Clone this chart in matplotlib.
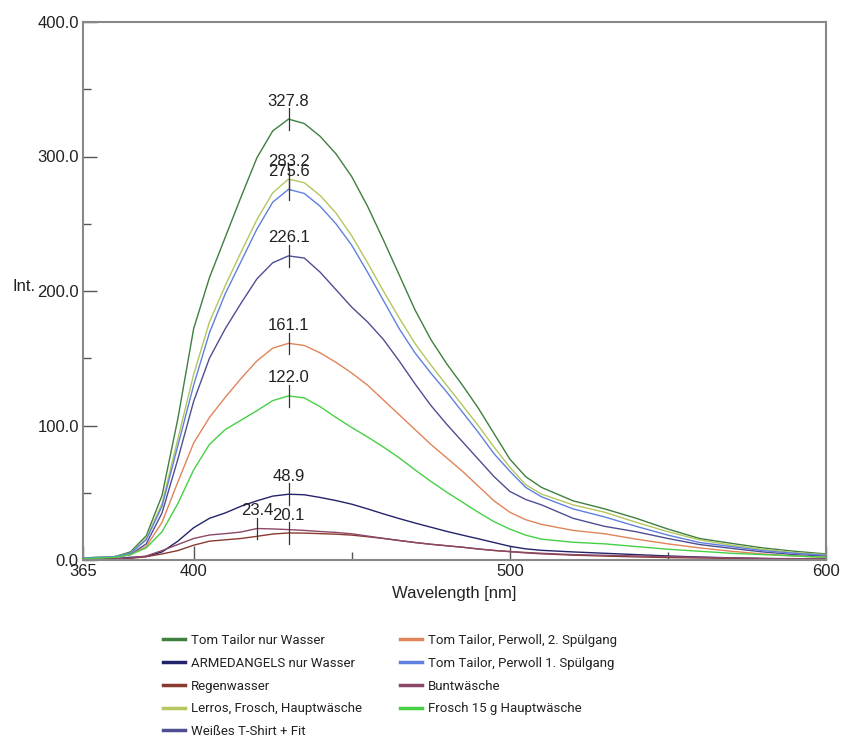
import numpy as np
import matplotlib
matplotlib.use("Agg")
import matplotlib.pyplot as plt
from matplotlib import font_manager
from matplotlib.ticker import MultipleLocator, FormatStrFormatter

plt.rcParams['font.family'] = ['Liberation Sans', 'DejaVu Sans']

# wavelength grid [nm]
wavelength = [365, 370, 375, 380, 385, 390, 395, 400, 405, 410, 415, 420, 425,
              430, 435, 440, 445, 450, 455, 460, 465, 470, 475, 480, 485, 490,
              495, 500, 505, 510, 520, 530, 540, 550, 560, 570, 580, 590, 600]

tom_tailor_wasser = [1.5, 2, 2.5, 6, 18, 48, 105, 172, 210, 240, 270, 299, 319,
                     327.8, 324.5, 315, 302, 285, 263, 238, 212, 186, 164, 146, 130, 113,
                     94, 75, 62, 54, 44, 38, 31, 23, 16, 12.4, 9, 6.5, 4.5]
armedangels_wasser = [0.5, 0.5, 1, 2, 2.5, 6, 14, 24, 31, 35, 40, 44, 47.5,
                      48.9, 48.5, 46.5, 44.2, 41.5, 38, 34.3, 30.8, 27.5, 24.4, 21.3, 18.5, 15.8,
                      13, 10.2, 8.3, 7.2, 6, 5, 4, 3, 2.2, 1.6, 1.1, 0.8, 0.5]
regenwasser = [0.3, 0.5, 0.7, 1.2, 2.5, 4.5, 7, 11, 14, 15, 16, 17.6, 19.3,
               20.1, 20, 19.6, 19.2, 18.5, 17.3, 16, 14.5, 13, 11.7, 10.6, 9.5, 8.2,
               7.1, 6.2, 5.3, 4.6, 3.6, 2.9, 2.3, 1.8, 1.5, 1.2, 1, 0.8, 0.6]
lerros_frosch = [1.5, 2, 2.5, 5, 16, 42, 90, 138, 177, 204, 229, 253, 273,
                 283.2, 280.5, 271, 258, 241, 221, 200, 180, 161, 145, 130, 115, 100,
                 84, 69, 56, 49, 41, 35.5, 28, 21, 15, 11, 8, 5.5, 4]
weisses_tshirt = [1, 1.5, 2, 4, 12, 35, 75, 118, 150, 172, 191, 209, 221,
                  226.1, 224.5, 214, 201, 188, 177, 164, 148, 131, 115, 101, 88, 75,
                  62, 51, 45, 41, 31, 25, 21, 16, 11.5, 8.7, 6, 4, 3]
perwoll_2 = [1, 1.5, 2, 4, 10, 28, 58, 87, 106, 121, 135, 148, 157.5,
             161.1, 159.5, 154, 147, 139, 130, 119, 108, 97, 86, 76, 66, 55,
             44, 35.5, 30, 26.5, 22, 19.5, 15.5, 12, 9, 6.5, 4.5, 3, 2]
perwoll_1 = [1.5, 2, 2.5, 5, 15, 40, 85, 130, 169, 198, 222, 246, 266,
             275.6, 272.5, 263, 250, 234, 214, 193, 172, 154, 139, 125, 110, 95,
             79, 66, 54, 47, 38, 32, 25, 18.5, 13, 10, 7, 5, 3.5]
buntwaesche = [0.3, 0.5, 0.8, 1.5, 3, 7, 11.5, 16, 18.6, 19.6, 20.8, 23.4, 23.1,
               22.6, 22, 21.2, 20.5, 19.5, 17.8, 16.1, 14.5, 13, 11.7, 10.6, 9.5, 8.2,
               7.1, 6.3, 5.6, 5, 4, 3.5, 3, 2.5, 2, 1.5, 1.2, 1, 0.8]
frosch_15g = [1, 1.5, 2, 4, 9, 21, 42, 67, 86, 97, 104, 111, 118.5,
              122.0, 120.5, 114, 106, 98.5, 91.5, 84, 76, 67, 58.5, 50.5, 43, 35.5,
              28.5, 23, 18.5, 15.5, 13.2, 12, 10, 8, 6.5, 5, 4, 3, 2]

series = [
    ("Tom Tailor nur Wasser", tom_tailor_wasser, "#3f7f3f"),
    ("ARMEDANGELS nur Wasser", armedangels_wasser, "#23236a"),
    ("Regenwasser", regenwasser, "#8a3a2e"),
    ("Lerros, Frosch, Hauptwäsche", lerros_frosch, "#b4c65e"),
    ("Weißes T-Shirt + Fit", weisses_tshirt, "#4e4e92"),
    ("Tom Tailor, Perwoll, 2. Spülgang", perwoll_2, "#e0845a"),
    ("Tom Tailor, Perwoll 1. Spülgang", perwoll_1, "#5f80de"),
    ("Buntwäsche", buntwaesche, "#8c4868"),
    ("Frosch 15 g Hauptwäsche", frosch_15g, "#46d046"),
]

# condensed font for the legend if one is around
names = {f.name for f in font_manager.fontManager.ttflist}
if "Liberation Sans Narrow" in names:
    leg_font = {"family": "Liberation Sans Narrow", "size": 11}
else:
    leg_font = {"family": "Roboto", "size": 9.5}

W, H = 842, 740
fig = plt.figure(figsize=(W / 100, H / 100), dpi=100)
ax = fig.add_axes([83 / W, 1 - 560 / H, (826 - 83) / W, (560 - 22) / H])

lines = []
for name, vals, col in series:
    ln, = ax.plot(wavelength, vals, color=col, lw=1.0, label=name)
    lines.append(ln)

# peak markers
for name, vals, col in series:
    i = int(np.argmax(vals))
    px, py = wavelength[i], vals[i]
    ax.plot([px, px], [py - 8, py + 8], color="#333333", lw=0.9)
    ax.text(px, py + 10, f"{py:.1f}", ha="center", va="baseline", fontsize=12,
            color="#222222")

ax.set_xlim(365, 600)
ax.set_ylim(0, 400)
ax.set_xticks([365, 400, 500, 600])
ax.xaxis.set_minor_locator(MultipleLocator(50))
ax.yaxis.set_major_locator(MultipleLocator(100))
ax.yaxis.set_minor_locator(MultipleLocator(50))
ax.yaxis.set_major_formatter(FormatStrFormatter("%.1f"))

for sp in ax.spines.values():
    sp.set_color("#888888")
    sp.set_linewidth(1.5)
ax.tick_params(which="major", direction="in", length=10, width=1.0,
               color="#555555", labelsize=12, labelcolor="#222222", pad=3)
ax.tick_params(which="minor", direction="in", length=6, width=1.0,
               color="#555555")

ax.set_xlabel("Wavelength [nm]", fontsize=12, color="#222222", labelpad=5)
fig.text(24 / W, 1 - 287 / H, "Int.", fontsize=12, ha="center",
         va="center", color="#222222")

# two legend columns, pinned where the reference puts them
fs_px = leg_font["size"] * 100 / 72
common = dict(loc="upper left", frameon=False, prop=leg_font, borderpad=0,
              borderaxespad=0, handlelength=22 / fs_px, handletextpad=6 / fs_px,
              labelspacing=(22.7 - fs_px * 1.15) / fs_px + 0.17,
              labelcolor="#222222")
leg1 = fig.legend(handles=lines[:5], bbox_to_anchor=(163 / W, 1 - 634 / H),
                  **common)
leg2 = fig.legend(handles=lines[5:], bbox_to_anchor=(400 / W, 1 - 634 / H),
                  **common)
for lg in (leg1, leg2):
    for h in lg.legend_handles:
        h.set_linewidth(2.5)

fig.savefig("out.png", dpi=100)
